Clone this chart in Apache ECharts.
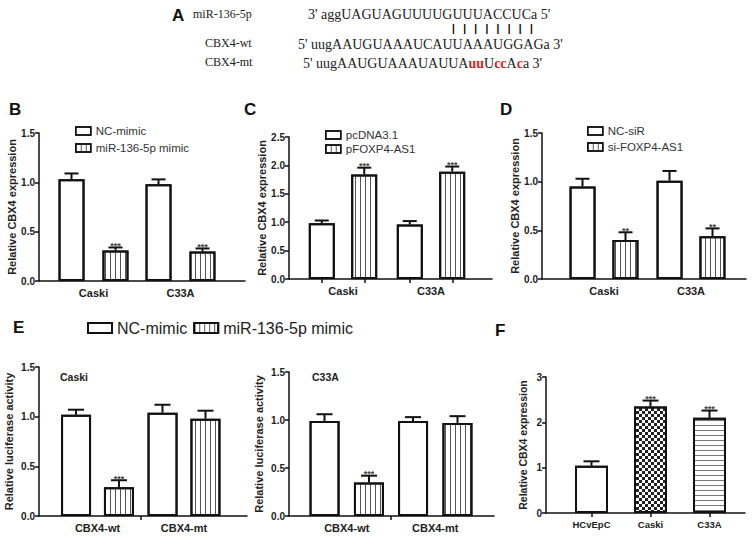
<!DOCTYPE html>
<html><head><meta charset="utf-8">
<script src="https://cdn.jsdelivr.net/npm/echarts@6/dist/echarts.min.js"></script>
<style>html,body{margin:0;padding:0;background:#fff}#c{width:753px;height:540px}</style>
</head><body><div id="c"></div>
<script>
// ---------------- DATA ----------------
// Panel B
const bCategories = ['Caski', 'C33A'];
const bNames = ['NC-mimic', 'miR-136-5p mimic'];
const bNC = [1.03, 0.98];
const bNCErr = [0.06, 0.05];
const bMimic = [0.31, 0.30];
const bMimicErr = [0.03, 0.03];
const bStars = ['***', '***'];
// Panel C
const cCategories = ['Caski', 'C33A'];
const cNames = ['pcDNA3.1', 'pFOXP4-AS1'];
const cPc = [0.98, 0.96];
const cPcErr = [0.05, 0.06];
const cPF = [1.84, 1.89];
const cPFErr = [0.12, 0.09];
const cStars = ['***', '***'];
// Panel D
const dCategories = ['Caski', 'C33A'];
const dNames = ['NC-siR', 'si-FOXP4-AS1'];
const dNC = [0.95, 1.01];
const dNCErr = [0.08, 0.10];
const dSi = [0.40, 0.44];
const dSiErr = [0.08, 0.08];
const dStars = ['**', '**'];
// Panel E
const eCategories = ['CBX4-wt', 'CBX4-mt'];
const eNames = ['NC-mimic', 'miR-136-5p mimic'];
const eCaskiNC = [1.02, 1.04];
const eCaskiNCErr = [0.05, 0.08];
const eCaskiMimic = [0.29, 0.98];
const eCaskiMimicErr = [0.07, 0.08];
const eCaskiStars = ['***', ''];
const eC33aNC = [0.99, 0.99];
const eC33aNCErr = [0.07, 0.04];
const eC33aMimic = [0.35, 0.97];
const eC33aMimicErr = [0.07, 0.07];
const eC33aStars = ['***', ''];
// Panel F
const fCategories = ['HCvEpC', 'Caski', 'C33A'];
const fValues = [1.04, 2.35, 2.10];
const fErr = [0.10, 0.13, 0.16];
const fStars = ['', '***', '***'];
// Panel A sequences
const aLabels = ['miR-136-5p', 'CBX4-wt', 'CBX4-mt'];
const aMiR = "3' aggUAGUAGUUUUGUUUACCUCa 5'";
const aPair = '|   |   |   |   |   |   |   |';
const aWt = "5' uugAAUGUAAAUCAUUAAAUGGAGa 3'";
const aMt = "5' uugAAUGUAAAUAUUA{r|uu}U{r|cc}A{r|c}a 3'";

// ---------------- STYLE / BUILD ----------------
const FONT = 'Arial, "Liberation Sans", sans-serif';
const SERIF = '"Liberation Serif", "Times New Roman", serif';
const INK = '#111';
const stripeV = {symbol: 'rect', symbolSize: 1, dashArrayX: [1, 4], dashArrayY: [5, 0], color: '#555', rotation: 0};
const checker = {symbol: 'rect', symbolSize: 1, dashArrayX: [[3, 3], [0, 3, 3, 0]], dashArrayY: [3, 0], color: '#222', rotation: 0};
const stripeH = {symbol: 'rect', symbolSize: 1, dashArrayX: [5, 0], dashArrayY: [1, 4], color: '#777', rotation: 0};
const plain = {symbol: 'none'};

const grids = [], xAxes = [], yAxes = [], series = [];

function errorSeries(gi, values, errs, stars, offsetPx, capHalf) {
  return {
    type: 'custom', xAxisIndex: gi, yAxisIndex: gi, z: 5, silent: true,
    data: values.map((v, i) => [i, v, errs[i]]),
    encode: {x: 0, y: 1},
    renderItem: (params, api) => {
      const x = api.value(0), v = api.value(1), e = api.value(2);
      const p0 = api.coord([x, v]);
      const p1 = api.coord([x, v + e]);
      const cx = p0[0] + offsetPx;
      const st = {stroke: INK, lineWidth: 2};
      const children = [
        {type: 'line', shape: {x1: cx, y1: p0[1], x2: cx, y2: p1[1]}, style: st},
        {type: 'line', shape: {x1: cx - capHalf, y1: p1[1], x2: cx + capHalf, y2: p1[1]}, style: st}
      ];
      const s = stars[params.dataIndex];
      if (s) children.push({type: 'text', style: {x: cx, y: p1[1] + 3, text: s, fill: '#444',
        font: 'bold 9px Arial', textAlign: 'center', textVerticalAlign: 'bottom'}});
      return {type: 'group', children};
    }
  };
}

function panel(cfg) {
  const gi = grids.length;
  grids.push({left: cfg.left, top: cfg.top, width: cfg.width, height: cfg.height});
  const min = -(cfg.center0 - cfg.left) / cfg.spacing;
  const max = (cfg.left + cfg.width - cfg.center0) / cfg.spacing;
  const lineStyle = {color: INK, width: 1.5};
  xAxes.push({
    type: 'value', gridIndex: gi, min, max,
    axisLine: {show: true, onZero: false, lineStyle},
    axisTick: cfg.ticks ? {show: true, customValues: cfg.ticks(cfg), length: 4, lineStyle} : {show: false},
    axisLabel: {customValues: cfg.categories.map((_, i) => i), formatter: v => cfg.categories[Math.round(v)],
      margin: 6, fontSize: cfg.xFont || 11, fontWeight: 'bold', color: '#222', fontFamily: FONT},
    splitLine: {show: false}
  });
  yAxes.push({
    type: 'value', gridIndex: gi, min: 0, max: cfg.yMax, interval: cfg.yInterval,
    name: cfg.yName, nameLocation: 'middle', nameGap: cfg.nameGap,
    nameTextStyle: {fontSize: cfg.nameFont || 11, fontWeight: 'bold', color: '#222', fontFamily: FONT},
    axisLine: {show: true, onZero: false, lineStyle},
    axisTick: {show: true, length: 4, lineStyle},
    axisLabel: {formatter: v => v.toFixed(cfg.dec), fontSize: 10, fontWeight: 'bold', color: '#222', fontFamily: FONT, margin: 4},
    splitLine: {show: false}
  });
  cfg.series.forEach(s => {
    series.push({
      type: 'bar', name: s.name, xAxisIndex: gi, yAxisIndex: gi,
      barWidth: cfg.barWidth, barGap: cfg.barGap,
      data: s.values.map((v, i) => s.decals ? {value: [i, v], itemStyle: {decal: s.decals[i]}} : [i, v]),
      itemStyle: {color: '#fff', borderColor: INK, borderWidth: 2, decal: s.decal},
      emphasis: {disabled: true}
    });
    series.push(errorSeries(gi, s.values, s.err, s.stars, s.offset, cfg.capHalf));
  });
}

const barTicks = c => {
  const off = c.diff / 2 / c.spacing;
  const t = [];
  c.categories.forEach((_, i) => { t.push(i - off, i + off); });
  return t;
};

panel({left: 39, top: 133, width: 206, height: 148, center0: 93.5, spacing: 87,
  categories: bCategories, yMax: 1.5, yInterval: 0.5, dec: 1, yName: 'Relative CBX4 expression', nameGap: 21,
  barWidth: 26, barGap: '69%', capHalf: 7,
  series: [
    {name: bNames[0], values: bNC, err: bNCErr, stars: ['', ''], decal: plain, offset: -22},
    {name: bNames[1], values: bMimic, err: bMimicErr, stars: bStars, decal: stripeV, offset: 22}
  ]});
panel({left: 289, top: 137, width: 203, height: 142, center0: 343, spacing: 88, diff: 42.5, ticks: barTicks,
  categories: cCategories, yMax: 2.5, yInterval: 0.5, dec: 1, yName: 'Relative CBX4 expression', nameGap: 20,
  barWidth: 26, barGap: '63%', capHalf: 7,
  series: [
    {name: cNames[0], values: cPc, err: cPcErr, stars: ['', ''], decal: plain, offset: -21.25},
    {name: cNames[1], values: cPF, err: cPFErr, stars: cStars, decal: stripeV, offset: 21.25}
  ]});
panel({left: 542, top: 133, width: 204, height: 146, center0: 604, spacing: 87,
  categories: dCategories, yMax: 1.5, yInterval: 0.5, dec: 1, yName: 'Relative CBX4 expression', nameGap: 21,
  barWidth: 26, barGap: '65%', capHalf: 7,
  series: [
    {name: dNames[0], values: dNC, err: dNCErr, stars: ['', ''], decal: plain, offset: -21.5},
    {name: dNames[1], values: dSi, err: dSiErr, stars: dStars, decal: stripeV, offset: 21.5}
  ]});
panel({left: 39, top: 367, width: 208, height: 149, center0: 97.5, spacing: 86.5, ticks: () => [0.5],
  categories: eCategories, yMax: 1.5, yInterval: 0.5, dec: 1, yName: 'Relative luciferase activity', nameGap: 25,
  barWidth: 30, barGap: '43%', capHalf: 8,
  series: [
    {name: eNames[0], values: eCaskiNC, err: eCaskiNCErr, stars: ['', ''], decal: plain, offset: -21.5},
    {name: eNames[1], values: eCaskiMimic, err: eCaskiMimicErr, stars: eCaskiStars, decal: stripeV, offset: 21.5}
  ]});
panel({left: 289, top: 372, width: 205, height: 144, center0: 346.75, spacing: 88.5, ticks: () => [0.5],
  categories: eCategories, yMax: 1.5, yInterval: 0.5, dec: 1, yName: 'Relative luciferase activity', nameGap: 25,
  barWidth: 30, barGap: '48%', capHalf: 8,
  series: [
    {name: eNames[0], values: eC33aNC, err: eC33aNCErr, stars: ['', ''], decal: plain, offset: -22.25},
    {name: eNames[1], values: eC33aMimic, err: eC33aMimicErr, stars: eC33aStars, decal: stripeV, offset: 22.25}
  ]});
panel({left: 546, top: 377, width: 199, height: 136, center0: 591.5, spacing: 59, ticks: c => c.categories.map((_, i) => i),
  categories: fCategories, yMax: 3, yInterval: 1, dec: 0, yName: 'Relative CBX4 expression', nameGap: 18, nameFont: 10.5, xFont: 9.5,
  barWidth: 33, barGap: '0%', capHalf: 8,
  series: [
    {name: 'F', values: fValues, err: fErr, stars: fStars, decals: [plain, checker, stripeH], decal: plain, offset: 0}
  ]});

// legends
const legText = {fontSize: 11.5, color: '#333', fontFamily: FONT};
const legItem = {borderColor: INK, borderWidth: 1.5};
const legBase = {orient: 'vertical', itemWidth: 15, itemHeight: 8, textStyle: legText, itemStyle: legItem, selectedMode: false, padding: 0, icon: 'rect'};
const legends = [
  Object.assign({}, legBase, {data: bNames, left: 75, top: 125, itemGap: 5}),
  Object.assign({}, legBase, {data: cNames, left: 325, top: 129, itemGap: 2}),
  Object.assign({}, legBase, {data: dNames, left: 587, top: 125, itemGap: 4}),
  {data: eNames, left: 87, top: 320, orient: 'horizontal', itemWidth: 24, itemHeight: 10, itemGap: 6, textStyle: {fontSize: 16, color: '#222', fontFamily: FONT}, itemStyle: {borderColor: INK, borderWidth: 2}, selectedMode: false, padding: 0, icon: 'rect'}
];

// titles / text
const letterStyle = {fontSize: 17, fontWeight: 'bold', color: '#111', fontFamily: FONT};
const seqStyle = {fontSize: 14, fontWeight: 'normal', color: '#222', fontFamily: SERIF, rich: {r: {fontSize: 14, color: '#e02020', fontWeight: 'bold', fontFamily: SERIF}}};
const labStyle = {fontSize: 12, fontWeight: 'normal', color: '#222', fontFamily: SERIF};
const titles = [
  {text: 'A', left: 172, top: 7, textStyle: letterStyle},
  {text: 'B', left: 9, top: 101, textStyle: letterStyle},
  {text: 'C', left: 244, top: 101, textStyle: letterStyle},
  {text: 'D', left: 500, top: 101, textStyle: letterStyle},
  {text: 'E', left: 13, top: 319, textStyle: letterStyle},
  {text: 'F', left: 495, top: 322, textStyle: letterStyle},
  {text: aLabels[0], left: 193, top: 8, textStyle: labStyle},
  {text: aLabels[1], left: 205, top: 37, textStyle: labStyle},
  {text: aLabels[2], left: 205, top: 56, textStyle: labStyle},
  {text: aMiR, left: 308, top: 7, textStyle: seqStyle},
  {text: aPair, left: 452, top: 23, textStyle: {fontSize: 10, fontWeight: 'bold', color: '#000', fontFamily: FONT}},
  {text: aWt, left: 298, top: 37, textStyle: seqStyle},
  {text: aMt, left: 303, top: 56, textStyle: seqStyle},
  {text: 'Caski', left: 60, top: 371, textStyle: {fontSize: 10.5, fontWeight: 'bold', color: '#222', fontFamily: FONT}},
  {text: 'C33A', left: 312, top: 371, textStyle: {fontSize: 10.5, fontWeight: 'bold', color: '#222', fontFamily: FONT}}
].map(t => Object.assign({padding: 0}, t));

const chart = echarts.init(document.getElementById('c'), null, {renderer: 'svg'});
chart.setOption({
  backgroundColor: '#fff',
  animation: false,
  title: titles,
  legend: legends,
  grid: grids,
  xAxis: xAxes,
  yAxis: yAxes,
  series: series
});
</script></body></html>
